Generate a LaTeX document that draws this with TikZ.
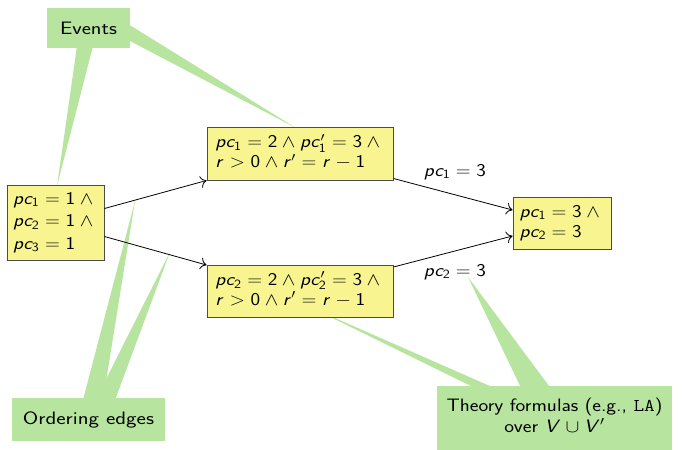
\RequirePackage{fix-cm}
\documentclass[tikz,border=0pt]{standalone}
\usepackage{graphicx}
\usetikzlibrary{calc,arrows.meta}
\DeclareMathVersion{sans}
\SetSymbolFont{operators}{sans}{OT1}{cmss}{m}{n}
\SetSymbolFont{letters}{sans}{OT1}{cmss}{m}{sl}
\SetSymbolFont{symbols}{sans}{OMS}{cmsy}{m}{n}
\DeclareSymbolFont{cmlett}{OML}{cmm}{m}{it}
\DeclareMathSymbol{>}{\mathrel}{cmlett}{"3E}
\newcommand{\wx}[2][1.13]{\scalebox{#1}[1]{#2}}
\newcommand{\lines}[1]{\wx{\begin{tabular}{@{}l@{}}#1\end{tabular}}}
\newcommand{\clines}[1]{\wx[1.15]{\begin{tabular}{@{}c@{}}#1\end{tabular}}}
\definecolor{callg}{HTML}{B7E59F}
\definecolor{boxy}{HTML}{F8F590}
\tikzset{
  txt/.style={font=\fontsize{18}{20}\selectfont\sffamily\mathversion{sans}},
  ybox/.style={txt, draw=black!70, fill=boxy, inner sep=3pt, line width=1pt},
  gbox/.style={txt, fill=callg, inner sep=3pt},
  ptr/.style={fill=callg},
  arr/.style={-{To[length=6pt,width=12pt]}, line width=0.8pt}
}
\begin{document}
\begin{tikzpicture}[x=1pt,y=-1pt]
\useasboundingbox (0,0) rectangle (684,449);
% pointer coordinates
\coordinate (e1a) at (77,46);  \coordinate (e1b) at (93,46);  \coordinate (e1t) at (57,186);
\coordinate (e2a) at (128,24); \coordinate (e2b) at (128,40); \coordinate (e2t) at (296,128);
\coordinate (o1a) at (78,419); \coordinate (o1b) at (100,419); \coordinate (o1t) at (135,201);
\coordinate (o2a) at (86,419); \coordinate (o2b) at (108,419); \coordinate (o2t) at (170,252);
\coordinate (t1a) at (479,390); \coordinate (t1b) at (499,390); \coordinate (t1t) at (310,307);
\coordinate (t2a) at (522,390); \coordinate (t2b) at (552,390); \coordinate (t2t) at (468,277);
\fill[ptr] (e1a) -- (e1t) -- (e1b) -- cycle;
\fill[ptr] (e2a) -- (e2t) -- (e2b) -- cycle;
\fill[ptr] (o1a) -- (o1t) -- (o1b) -- cycle;
\fill[ptr] (o2a) -- (o2t) -- (o2b) -- cycle;
\fill[ptr] (t1a) -- (t1t) -- (t1b) -- cycle;
\fill[ptr] (t2a) -- (t2t) -- (t2b) -- cycle;
% callout boxes
\node[gbox, minimum width=83pt, minimum height=40pt] (events) at (88.5,28) {\wx[1.22]{Events}};
\node[gbox, minimum width=153pt, minimum height=43pt] (order) at (88.5,419.5) {\wx[1.24]{Ordering edges}};
\node[gbox, minimum width=235pt, minimum height=64pt] (theory) at (554.5,418)
  {\clines{Theory formulas (e.g., \texttt{LA})\\[1pt] over $V \cup V'$}};
% state boxes
\node[ybox, minimum width=97pt, minimum height=75pt] (start) at (55.5,222.5)
  {\lines{$pc_1 = 1 \wedge{}$\\[2.5pt] $pc_2 = 1 \wedge{}$\\[2.5pt] $pc_3 = 1$}};
\node[ybox, minimum width=186pt, minimum height=52pt] (up) at (300,154)
  {\lines{$pc_1 = 2 \wedge pc_1' = 3 \wedge{}$\\ $r > 0 \wedge r' = r - 1$}};
\node[ybox, minimum width=186pt, minimum height=52pt] (low) at (300,291.5)
  {\lines{$pc_2 = 2 \wedge pc_2' = 3 \wedge{}$\\ $r > 0 \wedge r' = r - 1$}};
\node[ybox, minimum width=98pt, minimum height=52pt] (fin) at (562,223)
  {\lines{$pc_1 = 3 \wedge{}$\\ $pc_2 = 3$}};
% arrows
\draw[arr] ($(start.east)+(0,-14)$) -- (up.south west);
\draw[arr] ($(start.east)+(0,14)$) -- (low.north west);
\draw[arr] ($(up.south east)+(0,-2)$) -- ($(fin.west)+(0,-13)$);
\draw[arr] ($(low.north east)+(0,2)$) -- ($(fin.west)+(0,13)$);
% edge labels
\node[txt] (l1) at (455,172) {\wx{$pc_1 = 3$}};
\node[txt] (l2) at (455,272) {\wx{$pc_2 = 3$}};
\end{tikzpicture}
\end{document}
